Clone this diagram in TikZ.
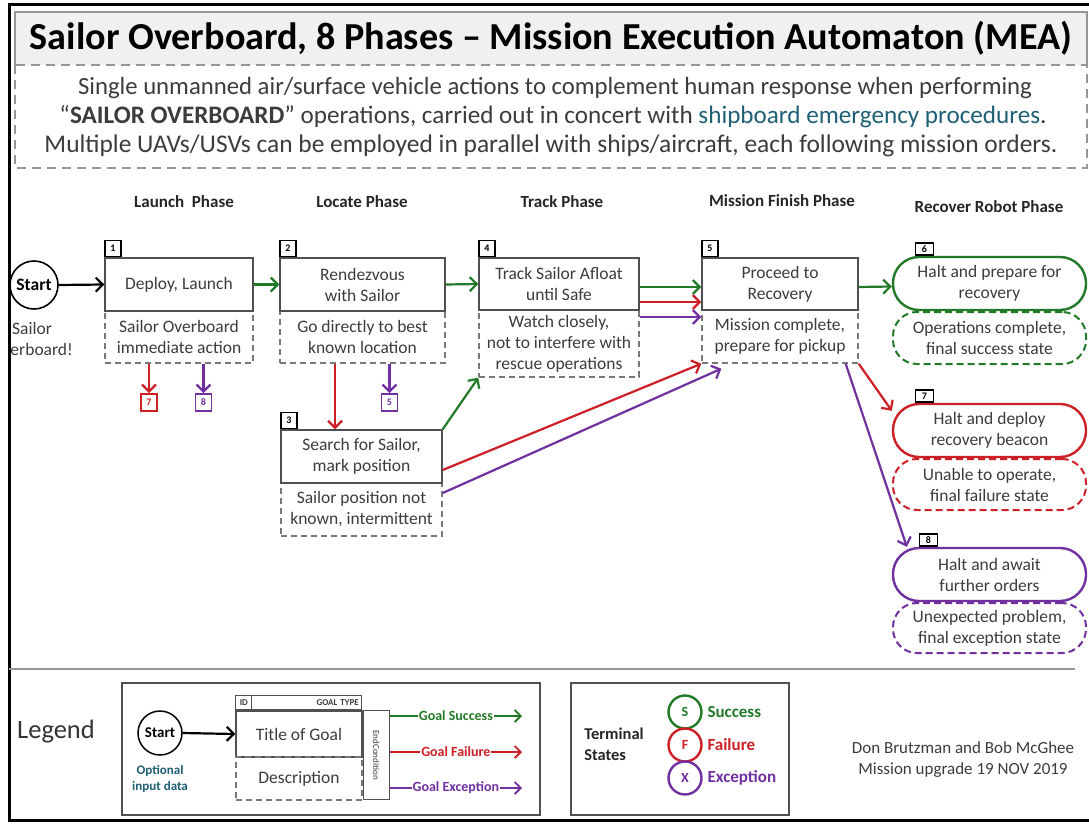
\documentclass[tikz,border=0pt]{standalone}
\usepackage{fontspec}
\usepackage{graphicx}
\setmainfont{Carlito}
\usetikzlibrary{arrows.meta,calc}
\definecolor{mygreen}{RGB}{34,122,40}
\definecolor{myred}{RGB}{204,32,38}
\definecolor{mypurple}{RGB}{112,48,160}
\definecolor{myteal}{RGB}{31,96,116}
\definecolor{txtgray}{RGB}{60,60,60}
\definecolor{boxgray}{RGB}{80,80,80}
\definecolor{dashgray}{RGB}{120,120,120}
\definecolor{framegray}{RGB}{150,150,150}
\definecolor{titlefill}{RGB}{240,240,240}
\begin{document}
\begin{tikzpicture}[x=1pt,y=-1pt,
  body/.style={font=\fontsize{17.5}{21}\selectfont, text=txtgray, align=center},
  topbox/.style={body, draw=boxgray, line width=1.4pt, inner sep=0pt},
  descbox/.style={body, draw=dashgray, line width=1.4pt, dash pattern=on 6pt off 4pt, inner sep=0pt},
  idbox/.style={draw=black, line width=1.4pt, fill=white, font=\fontsize{10}{10}\selectfont\bfseries, minimum width=16pt, minimum height=16pt, inner sep=0pt, anchor=south west},
  goalbox/.style={body, line width=2.4pt, rounded corners=26pt, inner sep=0pt, minimum width=193pt, minimum height=53pt},
  goaldesc/.style={body, line width=2pt, dash pattern=on 7pt off 4pt, rounded corners=24pt, inner sep=0pt, minimum width=193pt},
  conn/.style={line width=2.2pt, -{Straight Barb[length=7pt,width=14pt]}},
  phase/.style={font=\fontsize{17}{17}\selectfont\bfseries, text=black!85},
  smallbox/.style={line width=1.8pt, font=\fontsize{10}{10}\selectfont\bfseries, minimum width=16pt, minimum height=17pt, inner sep=0pt},
  legarrow/.style={line width=1.8pt, -{Straight Barb[length=6pt,width=12pt]}},
  leglabel/.style={fill=white, inner sep=1pt, font=\fontsize{14}{14}\selectfont\bfseries},
  termcirc/.style={circle, line width=2.4pt, minimum size=33pt, inner sep=0pt, font=\fontsize{14}{14}\selectfont\bfseries},
  termlabel/.style={anchor=west, font=\fontsize{17}{17}\selectfont\bfseries},
]
\useasboundingbox (0,0) rectangle (1089,824);
\clip (0,0) rectangle (1089,824);
\fill[white] (0,0) rectangle (1089,824);
% frame and title
\draw[line width=3pt] (9,5) rectangle (1110,820);
\fill[titlefill] (15,12) rectangle (1087,65);
\draw[framegray, line width=1.2pt] (15,65) -- (15,12) -- (1087,12) -- (1087,65);
\draw[framegray, line width=1.5pt, dash pattern=on 9pt off 6pt] (15,65) rectangle (1087,168);
\node (title) at (551,38) {\resizebox{1042pt}{!}{\fontsize{36}{40}\selectfont\bfseries Sailor Overboard, 8 Phases – Mission Execution Automaton (MEA)}};
\node[text=txtgray] (s1) at (555,88) {\resizebox{954pt}{!}{\fontsize{22}{24}\selectfont Single unmanned air/surface vehicle actions to complement human response when performing}};
\node[text=txtgray] (s2) at (553,117) {\resizebox{987pt}{!}{\fontsize{22}{24}\selectfont “\textbf{SAILOR OVERBOARD}” operations, carried out in concert with \textcolor{myteal}{shipboard emergency procedures}.}};
\node[text=txtgray] (s3) at (551,146) {\resizebox{1013pt}{!}{\fontsize{22}{24}\selectfont Multiple UAVs/USVs can be employed in parallel with ships/aircraft, each following mission orders.}};
% phases
\node[phase] (p1) at (184,202) {Launch\ \ Phase};
\node[phase] (p2) at (362,202) {Locate Phase};
\node[phase] (p3) at (562,202) {Track Phase};
\node[phase] (p4) at (782,201) {Mission Finish Phase};
\node[phase] (p5h) at (989,207) {Recover Robot Phase};
% start
\node[circle, draw, line width=1.6pt, minimum size=48pt, inner sep=0pt, font=\fontsize{17.5}{17.5}\selectfont\bfseries, fill=white] (start) at (34,285) {Start};
\begin{scope}
\clip (11,0) rectangle (1089,824);
\node[body] (sob) at (32,339) {Sailor\\Overboard!};
\end{scope}
% boxes
\node[descbox, minimum width=148pt, minimum height=52pt] (b1d) at (179,337) {Sailor Overboard\\immediate action};
\node[topbox, minimum width=148pt, minimum height=53pt] (b1t) at (179,284.5) {Deploy, Launch};
\node[idbox] (i1) at (b1t.north west) {1};
\node[descbox, minimum width=165pt, minimum height=52pt] (b2d) at (362.5,337) {Go directly to best\\known location};
\node[topbox, minimum width=165pt, minimum height=53pt] (b2t) at (362.5,284.5) {Rendezvous\\with Sailor};
\node[idbox] (i2) at (b2t.north west) {2};
\node[descbox, minimum width=161pt, minimum height=53pt] (b3d) at (361.5,509.5) {Sailor position not\\known, intermittent};
\node[topbox, minimum width=161pt, minimum height=53pt] (b3t) at (361.5,456.5) {Search for Sailor,\\mark position};
\node[idbox] (i3) at (b3t.north west) {3};
\node[descbox, minimum width=160pt, minimum height=67pt] (b4d) at (559,343.5) {Watch closely,\\not to interfere with\\rescue operations};
\node[topbox, minimum width=160pt, minimum height=52pt] (b4t) at (559,284) {Track Sailor Afloat\\until Safe};
\node[idbox] (i4) at (b4t.north west) {4};
\node[descbox, minimum width=156pt, minimum height=53pt] (b5d) at (780,336.5) {Mission complete,\\prepare for pickup};
\node[topbox, minimum width=156pt, minimum height=52pt] (b5t) at (780,284) {Proceed to\\Recovery};
\node[idbox] (i5) at (b5t.north west) {5};
% goal states
\node[goaldesc, draw=mygreen, minimum height=52pt] (b6d) at (989.5,338) {Operations complete,\\final success state};
\node[goalbox, draw=mygreen] (b6t) at (989.5,283.5) {Halt and prepare for\\recovery};
\node[idbox, minimum width=18pt, minimum height=12pt] (i6) at ([xshift=23pt]b6t.north west) {6};
\node[goaldesc, draw=myred, minimum height=51pt] (b7d) at (989.5,484.5) {Unable to operate,\\final failure state};
\node[goalbox, draw=myred] (b7t) at (989.5,430.5) {Halt and deploy\\recovery beacon};
\node[idbox, minimum width=18pt, minimum height=12pt] (i7) at ([xshift=23pt]b7t.north west) {7};
\node[goaldesc, draw=mypurple, minimum height=50pt] (b8d) at (989.5,628) {Unexpected problem,\\final exception state};
\node[goalbox, draw=mypurple] (b8t) at (989.5,574.5) {Halt and await\\further orders};
\node[idbox, minimum width=18pt, minimum height=12pt] (i8) at ([xshift=27pt]b8t.north west) {8};
% small target boxes
\node[smallbox, draw=myred, text=myred] (r7) at (149,402.5) {7};
\node[smallbox, draw=mypurple, text=mypurple] (q8) at (203.5,402.5) {8};
\node[smallbox, draw=mypurple, text=mypurple] (q5) at (389.5,402.5) {5};
% connectors
\draw[conn] (start.east) -- (b1t.west);
\draw[conn, mygreen] (b1t.east) -- (b2t.west);
\draw[conn, mygreen] (b2t.east) -- (b4t.west);
\draw[conn, mygreen] ([yshift=-3pt]b4t.east) -- ([yshift=-3pt]b5t.west);
\draw[conn, myred] ([yshift=-18pt]b4t.east) -- ([yshift=-18pt]b5t.west);
\draw[conn, mypurple] ([yshift=-33pt]b4t.east) -- ([yshift=-33pt]b5t.west);
\draw[conn, mygreen] ([yshift=-3pt]b5t.east) -- ([yshift=-3pt]b6t.west);
\draw[conn, myred] (b1d.south -| r7) -- (r7.north);
\draw[conn, mypurple] (b1d.south -| q8) -- (q8.north);
\coordinate (c23) at (335,0);
\draw[conn, myred] (b2d.south -| c23) -- (b3t.north -| c23);
\draw[conn, mypurple] (b2d.south -| q5) -- (q5.north);
\draw[conn, mygreen] (b3t.north east) -- (b4d.south west);
\draw[conn, myred] ([yshift=-13.5pt]b3t.east) -- (b5d.south west);
\draw[conn, mypurple] ([yshift=16.5pt]b3d.east) -- ([xshift=20pt,yshift=-5pt]b5d.south west);
\draw[conn, myred] (b5d.south east) -- ([yshift=-8pt]b7t.north west);
\draw[conn, mypurple] ([xshift=-13pt]b5d.south east) -- ([xshift=15pt]b8t.north west);
% legend
\draw[framegray, line width=1.5pt] (9,669) -- (1075,669);
\node[font=\fontsize{26.5}{26.5}\selectfont, text=black!80] (leg) at (56,732) {Legend};
\node[draw=boxgray, line width=1.3pt, minimum width=418pt, minimum height=132pt, inner sep=0pt] (legbox) at (331,749) {};
\node[circle, draw, line width=1.5pt, minimum size=44pt, inner sep=0pt, font=\fontsize{15}{15}\selectfont\bfseries] (ls) at (160,733) {Start};
\node[font=\fontsize{13}{16}\selectfont\bfseries, text=myteal, align=center] (lopt) at (160,779) {Optional\\input data};
\node[topbox, minimum width=126pt, minimum height=46pt] (lt) at (299,734) {Title of Goal};
\node[descbox, minimum width=126pt, minimum height=43pt] (ld) at (299,778.5) {Description};
\node[draw=boxgray, line width=1pt, minimum width=126pt, minimum height=14pt, inner sep=0pt, anchor=south west, font=\fontsize{9}{9}\selectfont\bfseries, text=txtgray, align=right, text width=120pt] (lh) at (lt.north west) {GOAL TYPE};
\node[draw=boxgray, line width=1pt, minimum width=16pt, minimum height=14pt, inner sep=0pt, anchor=south west, font=\fontsize{9}{9}\selectfont\bfseries, text=txtgray] (lid) at (lt.north west) {ID};
\node[draw=boxgray, line width=1pt, minimum width=26pt, minimum height=89pt, inner sep=0pt, anchor=north west] (lec) at (lt.north east) {};
\node[rotate=-90, font=\fontsize{9}{9}\selectfont, text=txtgray] (lect) at (lec.center) {EndCondition};
\draw[conn] (ls.east) -- (lt.west);
\coordinate (gs) at (522,716);
\coordinate (gf) at (522,752);
\coordinate (ge) at (522,788);
\draw[legarrow, mygreen] (lec.east |- gs) -- node[leglabel, text=mygreen] {Goal Success} (gs);
\draw[legarrow, myred] (lec.east |- gf) -- node[leglabel, text=myred] {Goal Failure} (gf);
\draw[legarrow, mypurple] (lec.east |- ge) -- node[leglabel, text=mypurple] {Goal Exception} (ge);
% terminal states
\node[draw=boxgray, line width=1.3pt, minimum width=218pt, minimum height=132pt, inner sep=0pt] (tbox) at (680,749) {};
\node[font=\fontsize{16.5}{21}\selectfont\bfseries, align=left, text=black!85] (tst) at (614,744) {Terminal\\States};
\node[termcirc, draw=mygreen, text=mygreen] (ts) at (685,712) {S};
\node[termcirc, draw=myred, text=myred] (tf) at (685,745) {F};
\node[termcirc, draw=mypurple, text=mypurple] (tx) at (685,778) {X};
\node[termlabel, text=mygreen] (tsl) at (704,712) {Success};
\node[termlabel, text=myred] (tfl) at (704,745) {Failure};
\node[termlabel, text=mypurple] (txl) at (704,778) {Exception};
\node[font=\fontsize{17}{21}\selectfont, text=txtgray, align=center] (auth) at (963,760) {Don Brutzman and Bob McGhee\\Mission upgrade 19 NOV 2019};
\end{tikzpicture}
\end{document}
